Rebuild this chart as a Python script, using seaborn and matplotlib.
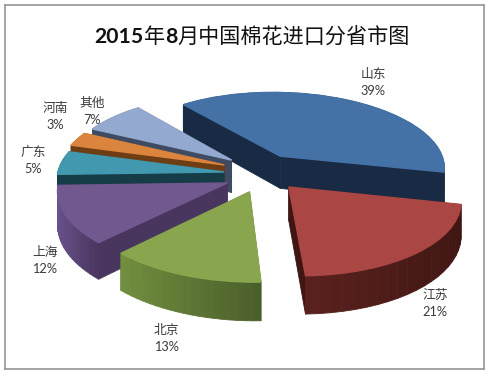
import numpy as np
import matplotlib
matplotlib.use("Agg")
import matplotlib.pyplot as plt
from matplotlib.colors import to_rgb
from matplotlib.transforms import Transform
import seaborn as sns

names = ["山东", "江苏", "北京", "上海", "广东", "河南", "其他"]
shares = [39, 21, 13, 12, 5, 3, 7]
title_runs = [("2015", "bold"), ("年", "normal"), ("8", "bold"), ("月中国棉花进口分省市图", "normal")]

top_colors = ["#4472A6", "#AA4643", "#89A54E", "#71588F", "#4198AF", "#DB843D", "#93A9CF"]
wall_left = ["#1B2E49", "#5A211D", "#72903F", "#6C5490", "#163C48", "#6E3D14", "#3E4B63"]
wall_right = ["#192B44", "#3F1613", "#4A5E2A", "#49365F", "#163C48", "#6E3D14", "#3E4B63"]

# layout: per-slice shift of each wedge on the pie plane, drawing order, label anchors
shift_x = [72, 77, 38.3, 17, 14, 14.5, 22]
shift_y = [36, -32.6, -43, -24, 0, 15.8, 27]
draw_order = [0, 6, 5, 4, 3, 2, 1]
label_xy = [(373, 82.5), (435, 303.5), (166, 338.5), (45, 260), (33, 160.5), (55, 116.5), (92, 111.5)]

RADIUS, TILT, PERSP, THICK = 166.0, 0.45, 0.0007, 33.0
VX, VY = 210.0, 172.0


def project(x, y, z=0.0):
    x, y = np.asarray(x, float), np.asarray(y, float)
    sc = 1.0 / (1.0 + PERSP * y)
    return VX + x * sc, VY - TILT * y * sc + z * THICK * sc


class PieProjection(Transform):
    input_dims = output_dims = 2
    is_affine = False
    has_inverse = False

    def transform_non_affine(self, values):
        values = np.asarray(values, float)
        px, py = project(values[:, 0], values[:, 1])
        return np.column_stack([px, py])


sns.set_theme(style="white")
plt.rcParams["font.family"] = ["Lato", "Noto Sans CJK SC", "DejaVu Sans"]

fig = plt.figure(figsize=(4.89, 3.76), dpi=100, facecolor="white")
ax = fig.add_axes([5 / 489, 1 - 369 / 376, 479 / 489, 364 / 376])

wedges, _ = ax.pie(shares, startangle=127.8, counterclock=False, radius=RADIUS)
ax.set_aspect("auto")
ax.set_xlim(5, 484)
ax.set_ylim(369, 5)
ax.set_frame_on(True)
for sp in ax.spines.values():
    sp.set_visible(True)
    sp.set_color("#959595")
    sp.set_linewidth(1.2)

proj = PieProjection()
z = 2.0
for i in draw_order:
    w = wedges[i]
    cx, cy = shift_x[i], shift_y[i]
    t1, t2 = w.theta1, w.theta2
    angles = np.radians(np.linspace(t1, t2, 21))
    ex, ey = cx + w.r * np.cos(angles), cy + w.r * np.sin(angles)
    cl, cr = np.array(to_rgb(wall_left[i])), np.array(to_rgb(wall_right[i]))
    faces = []
    for k in range(len(angles) - 1):
        f = 0.5 * (ex[k] + ex[k + 1] - 2 * ex.min()) / max(ex.max() - ex.min(), 1e-6)
        faces.append((0.5 * (ey[k] + ey[k + 1]), [ex[k], ex[k + 1]], [ey[k], ey[k + 1]], tuple(cl + (cr - cl) * f)))
    for a in (0, -1):
        faces.append((0.5 * (cy + ey[a]), [cx, ex[a]], [cy, ey[a]], tuple(cr)))
    faces.sort(key=lambda q: -q[0])
    for _, xs, ys, col in faces:
        x0, y0 = project(xs, ys, 0.0)
        x1, y1 = project(xs, ys, 1.0)
        ax.fill(np.r_[x0, x1[::-1]], np.r_[y0, y1[::-1]], facecolor=col, edgecolor=col,
                lw=0.6, joinstyle="round", zorder=z)
        z += 0.01
    w.set_center((cx, cy))
    w.set_facecolor(top_colors[i])
    w.set_edgecolor(top_colors[i])
    w.set_linewidth(1.0)
    w.set_transform(proj + ax.transData)
    w.set_zorder(z)
    z += 0.01

for name, share, (lx, ly) in zip(names, shares, label_xy):
    ax.text(lx, ly, f"{name}\n{share}%", ha="center", va="center", fontsize=9.2,
            color="#3A3A3A", linespacing=1.5, zorder=50)

# title set in runs: bold digits, regular Chinese
fig.canvas.draw()
rend = fig.canvas.get_renderer()
pieces = [ax.text(0, 37, s, fontsize=15.2, fontweight=wt, color="#111111", ha="left", va="center", zorder=50)
          for s, wt in title_runs]
widths = [p.get_window_extent(rend).width for p in pieces]
scale = ax.transData.inverted().transform((1, 0))[0] - ax.transData.inverted().transform((0, 0))[0]
x = 252 - sum(widths) * scale / 2
for p, wd in zip(pieces, widths):
    p.set_x(x)
    x += wd * scale

fig.savefig("out.png", dpi=100)
